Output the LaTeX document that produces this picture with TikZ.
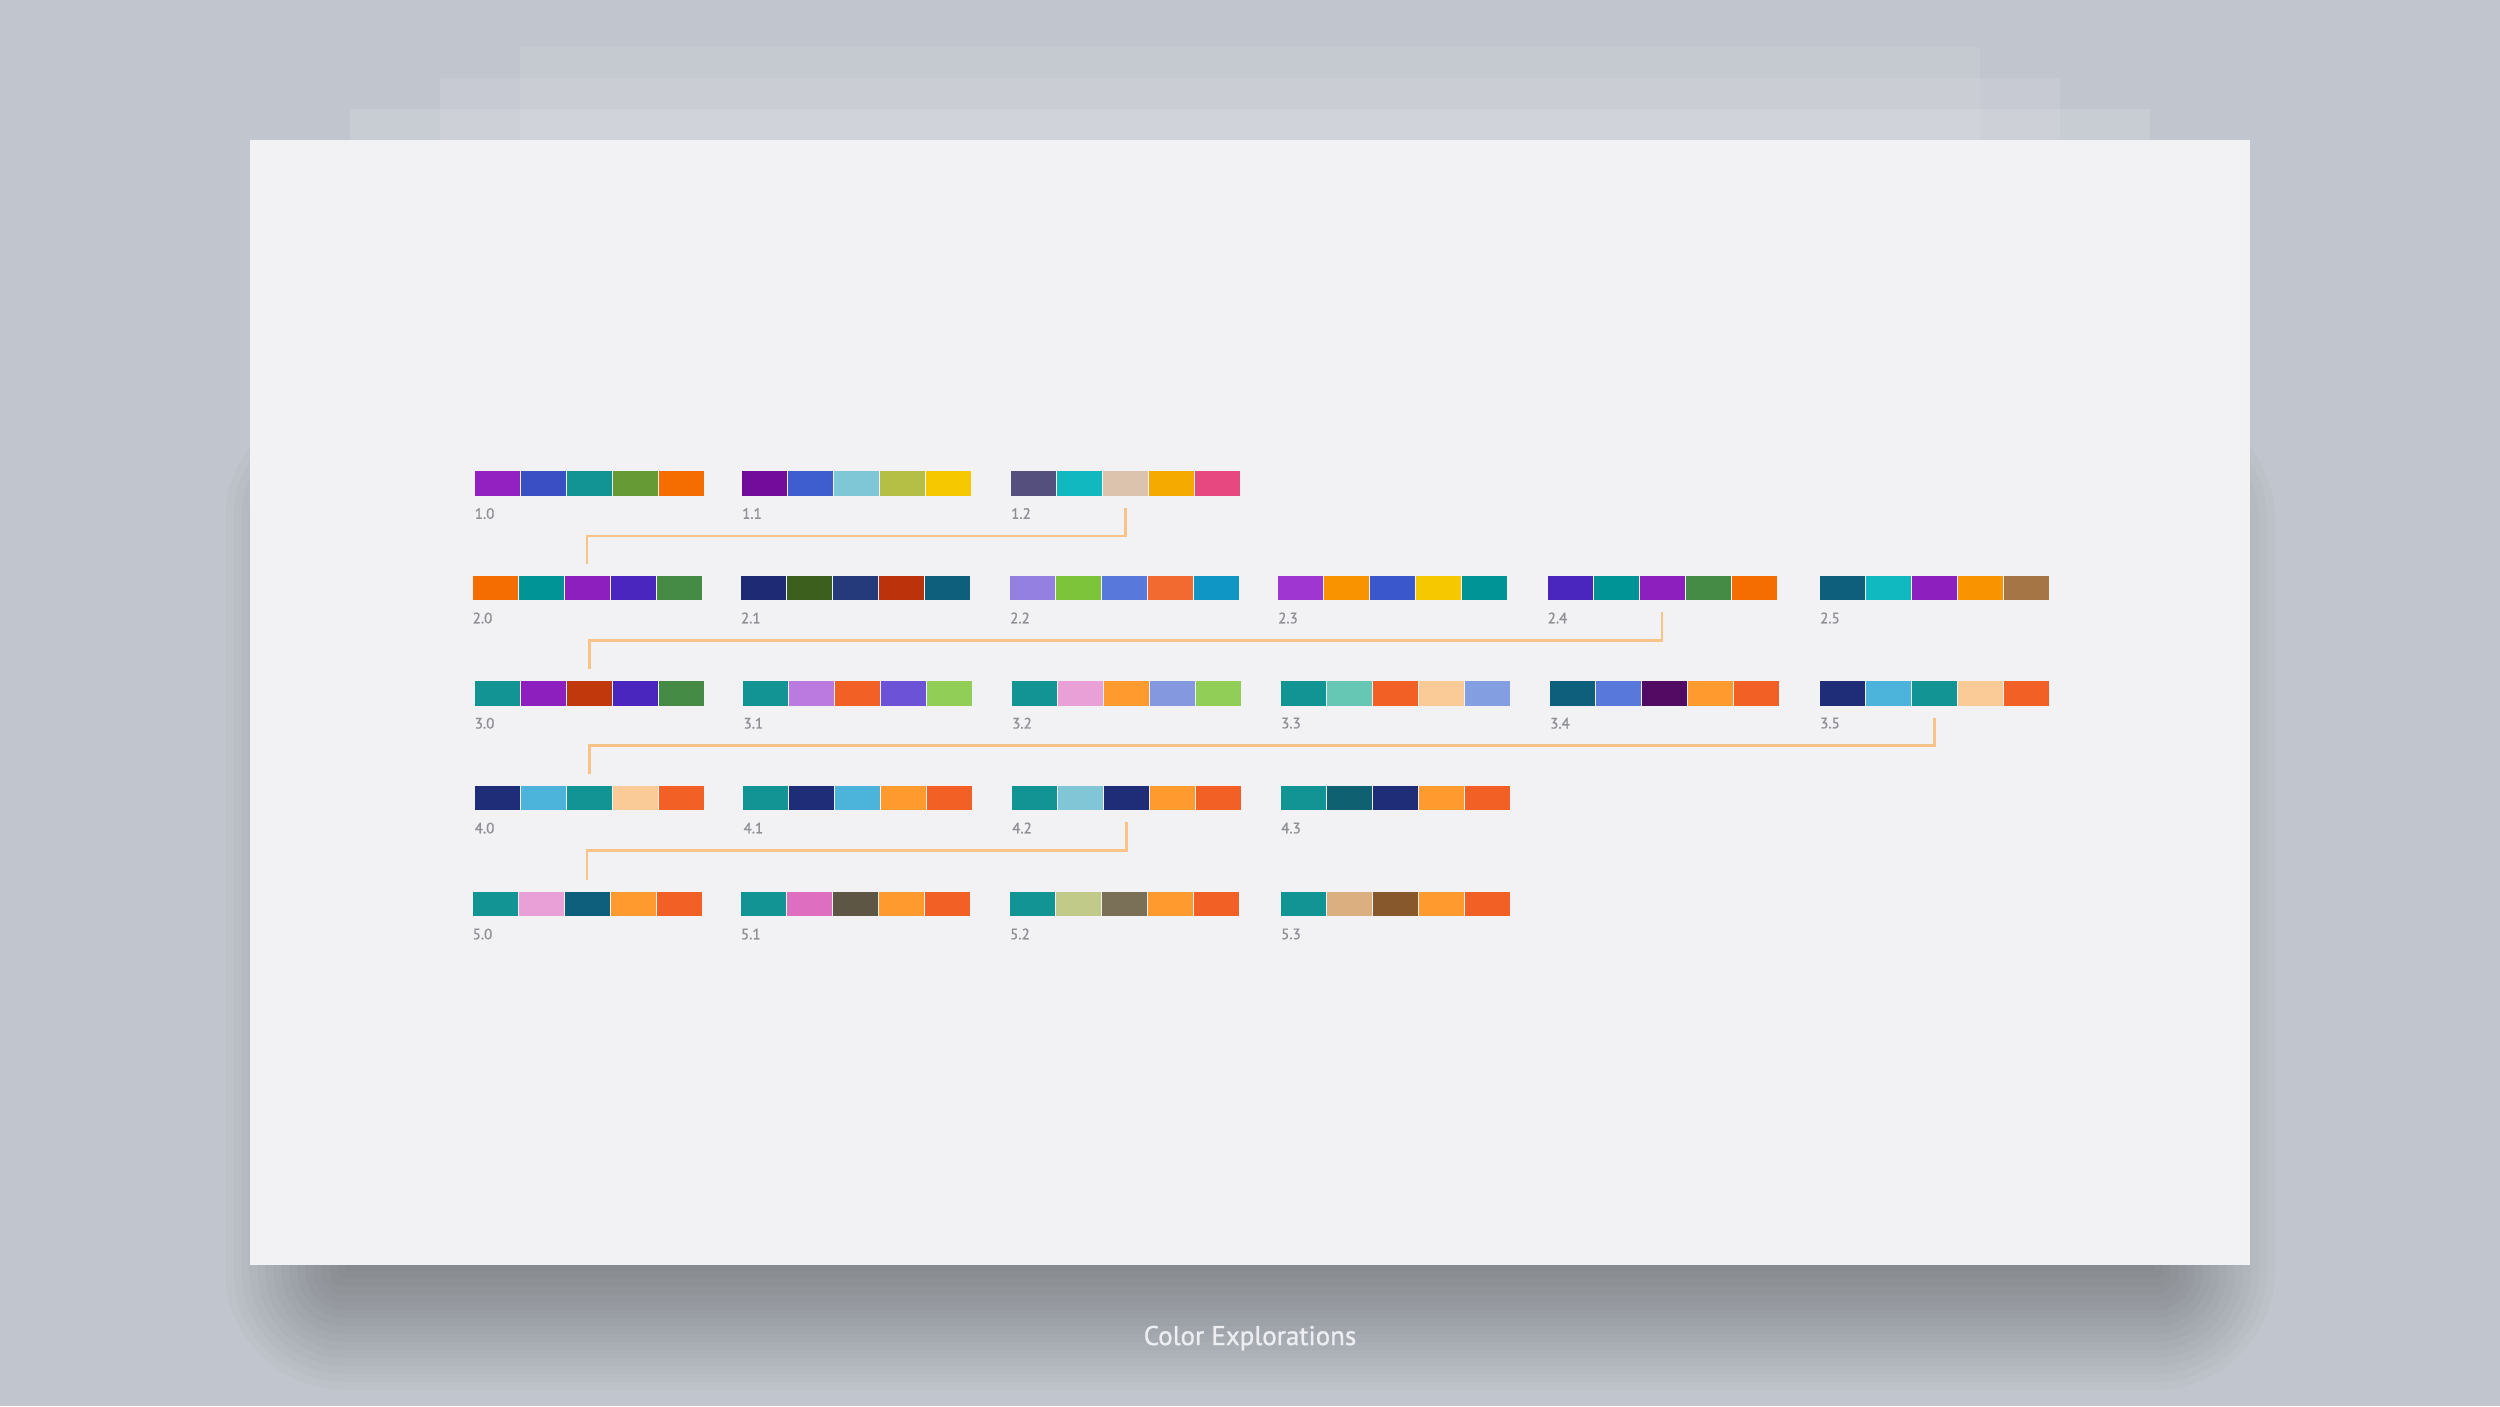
\documentclass[tikz,border=0pt]{standalone}
\usepackage{fontspec}
\setmainfont{PT Sans}
\newfontfamily\heavyfont[FakeBold=1]{PT Sans}
\usepackage{tikz}
\usetikzlibrary{calc}
\usepackage{xcolor}

\definecolor{backdrop}{HTML}{C1C5CD}
\definecolor{sheet}{HTML}{F2F2F4}
\definecolor{linkorange}{HTML}{F8C386}
\definecolor{labelgray}{HTML}{8E9096}
\definecolor{captiongray}{HTML}{ECEEF1}

\newcommand{\fillswatches}[2]{%
	\foreach \hex [count=\i from 0] in {#2} {
		\edef\setsw{\noexpand\definecolor{sw}{HTML}{\hex}}\setsw
		\fill[sw] ([xshift=\i*46]#1.south west) rectangle ([xshift=\i*46+45]#1.north west);
	}
}
\newcommand{\swatchrow}[5]{%
	\node[palette] (p#1) at (#2,#3) {};
	\node[tag] (l#1) at ([yshift=-12pt]p#1.south west) {#4};
	\fillswatches{p#1}{#5}
}

\begin{document}
\begin{tikzpicture}[x=1pt, y=-1pt]
	\tikzstyle{palette}=[
	rectangle,
	inner sep=0pt,
	minimum width=229pt,
	minimum height=24.5pt,
	anchor=north west
	]
	\tikzstyle{tag}=[
	anchor=north west,
	inner sep=0pt,
	text=labelgray,
	font=\heavyfont\fontsize{15}{15}\selectfont
	]
	\tikzstyle{link}=[draw=linkorange, line width=2.5pt]
	\useasboundingbox (0,0) rectangle (2500,1406);
	\fill[backdrop] (0,0) rectangle (2500,1406);
	\fill[white, opacity=0.07] (520,47) rectangle (1980,300);
	\fill[white, opacity=0.10] (440,78) rectangle (2060,300);
	\fill[white, opacity=0.12] (350,109) rectangle (2150,300);
	\foreach \r in {0,8,...,120}
		\fill[black, opacity=0.02, rounded corners=\r] (345-\r,520-\r) rectangle (2155+\r,1270+\r);
	\fill[sheet] (250,140) rectangle (2250,1265);
	% row 1
	\swatchrow{10}{474.6}{471}{1.0}{9320C0,3A4FC4,139494,669A34,F56C00}
	\swatchrow{11}{742}{471}{1.1}{730C9A,3E5ED0,7FC6D6,B5BE45,F5C800}
	\swatchrow{12}{1011}{471}{1.2}{554F7E,12B8C0,DCC3AD,F5AA00,E84880}
	% row 2
	\swatchrow{20}{472.5}{575.5}{2.0}{F56C00,009496,8D1FBE,4A25BE,458A45}
	\swatchrow{21}{740.8}{575.5}{2.1}{1F2A75,3D5F1E,253A7A,BC320A,0E5F7B}
	\swatchrow{22}{1010}{575.5}{2.2}{9480E0,7DC43A,5878DC,F26A30,1096C4}
	\swatchrow{23}{1278}{575.5}{2.3}{A036D2,FA9300,3A58CC,F5C800,009496}
	\swatchrow{24}{1547.5}{575.5}{2.4}{4A25BE,009496,8D1FBE,458A45,F56C00}
	\swatchrow{25}{1820}{575.5}{2.5}{0E5F7B,10B8C0,8D1FBE,FA9300,A57545}
	% row 3
	\swatchrow{30}{474.6}{680.7}{3.0}{139494,8D1FBE,C0380C,4A25BE,458A45}
	\swatchrow{31}{743.4}{680.7}{3.1}{139494,BA7AE0,F26026,6C52D6,90CE58}
	\swatchrow{32}{1012}{680.7}{3.2}{139494,E8A0D6,FF9A2E,8498E0,90CE58}
	\swatchrow{33}{1281}{680.7}{3.3}{139494,66C8B4,F26026,FACB96,849EE2}
	\swatchrow{34}{1550}{680.7}{3.4}{0E5F7B,5878DC,520A62,FF9A2E,F26026}
	\swatchrow{35}{1820}{680.7}{3.5}{1F2C78,4CB4DA,139494,FACB96,F26026}
	% row 4
	\swatchrow{40}{474.6}{785.5}{4.0}{1F2C78,4CB4DA,139494,FACB96,F26026}
	\swatchrow{41}{743.4}{785.5}{4.1}{139494,1F2C78,4CB4DA,FF9A2E,F26026}
	\swatchrow{42}{1012}{785.5}{4.2}{139494,80C6D6,1F2C78,FF9A2E,F26026}
	\swatchrow{43}{1281}{785.5}{4.3}{139494,0F6070,1F2C78,FF9A2E,F26026}
	% row 5
	\swatchrow{50}{472.5}{891.5}{5.0}{139494,E8A0D6,0E5F7B,FF9A2E,F26026}
	\swatchrow{51}{740.8}{891.5}{5.1}{139494,DE6EC0,5E5644,FF9A2E,F26026}
	\swatchrow{52}{1010}{891.5}{5.2}{139494,C2CA8A,7A7058,FF9A2E,F26026}
	\swatchrow{53}{1281}{891.5}{5.3}{139494,DCAF80,87582C,FF9A2E,F26026}
	\draw[link] ([yshift=-12pt]p12.south) -- ++(0,-28pt) -| ([yshift=12pt]p20.north);
	\draw[link] ([yshift=-12pt]p24.south) -- ++(0,-28pt) -| ([yshift=12pt]p30.north);
	\draw[link] ([yshift=-12pt]p35.south) -- ++(0,-28pt) -| ([yshift=12pt]p40.north);
	\draw[link] ([yshift=-12pt]p42.south) -- ++(0,-28pt) -| ([yshift=12pt]p50.north);
	\node[font=\heavyfont\fontsize{27}{30}\selectfont, text=captiongray, anchor=base] (caption) at (1250,1345) {Color Explorations};
\end{tikzpicture}
\end{document}
